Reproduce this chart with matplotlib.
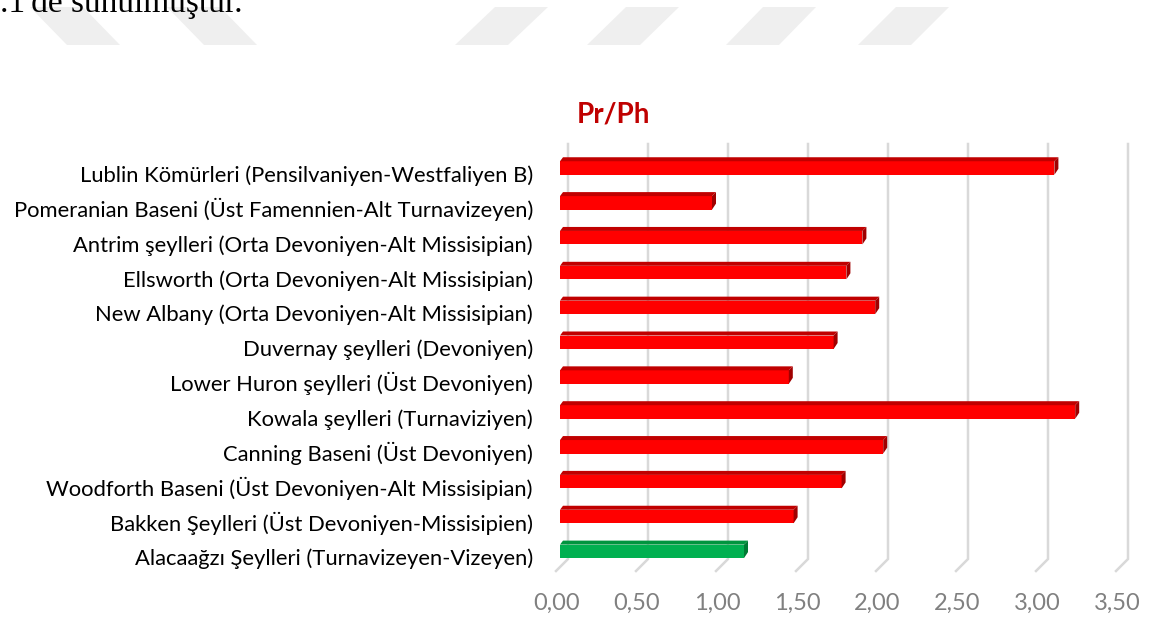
import matplotlib.pyplot as plt
from matplotlib.patches import Polygon

categories = [
    'Lublin Kömürleri (Pensilvaniyen-Westfaliyen B)',
    'Pomeranian Baseni (Üst Famennien-Alt Turnavizeyen)',
    'Antrim şeylleri (Orta Devoniyen-Alt Missisipian)',
    'Ellsworth (Orta Devoniyen-Alt Missisipian)',
    'New Albany (Orta Devoniyen-Alt Missisipian)',
    'Duvernay şeylleri (Devoniyen)',
    'Lower Huron şeylleri (Üst Devoniyen)',
    'Kowala şeylleri (Turnaviziyen)',
    'Canning Baseni (Üst Devoniyen)',
    'Woodforth Baseni (Üst Devoniyen-Alt Missisipian)',
    'Bakken Şeylleri (Üst Devoniyen-Missisipien)',
    'Alacaağzı Şeylleri (Turnavizeyen-Vizeyen)',
]
values = [3.09, 0.95, 1.89, 1.79, 1.97, 1.71, 1.43, 3.22, 2.02, 1.76, 1.46, 1.15]
highlight = 'Alacaağzı Şeylleri (Turnavizeyen-Vizeyen)'
ticks = [0.0, 0.5, 1.0, 1.5, 2.0, 2.5, 3.0, 3.5]
title = 'Pr/Ph'
header_text = ".1'de sunulmuştur."

W, H = 1149, 618
fig = plt.figure(figsize=(W / 100, H / 100), dpi=100)

# soluk filigran (arka plandaki gri paralelkenarlar)
watermark = [(30, 37), (167, 37), (495, -40), (626, -39), (763, -37), (896, -38)]
for x_top, shift in watermark:
    pts = [(x_top, 7), (x_top + 53, 7), (x_top + 53 + shift, 45), (x_top + shift, 45)]
    fig.patches.append(Polygon([(x / W, 1 - y / H) for x, y in pts], closed=True,
                               transform=fig.transFigure, facecolor='#EFEFEF',
                               edgecolor='none', zorder=0))

# sayfadan kalan, üstten kesik metin satırı
fig.text(0, 1 - 12 / H, header_text, ha='left', va='baseline', fontsize=24,
         family='Liberation Serif', color='black')

ax = fig.add_axes([560 / W, 1 - 590 / H, 580 / W, 450 / H])
ax.set_xlim(0, 580 / 160)
ax.set_ylim(422 / 34.85, -28 / 34.85)
ax.axis('off')

px = 1 / 160    # bir pikselin x ekseninde karşılığı
py = 1 / 34.85  # bir pikselin y ekseninde karşılığı

# 3B ızgara çizgileri
for t in ticks:
    xb = t + 8 * px
    ax.plot([xb, xb, t - 4 * px], [-24 * py, 391 * py, 403 * py], color='#D9D9D9',
            lw=1.8, zorder=1, clip_on=False, solid_joinstyle='miter')
    ax.text(t - 3 * px, 442 * py, f'{t:.2f}'.replace('.', ','), ha='center', va='baseline',
            color='#808080', fontsize=17, family='Lato')

h = 13.5 * py
for i, (c, v) in enumerate(zip(categories, values)):
    if c == highlight:
        front, top, side = '#00B050', '#00953F', '#007A33'
    else:
        front, top, side = '#FF0000', '#C00000', '#A00000'
    ax.barh(i, v, height=h, color=front, zorder=3)
    y0 = i - h / 2
    ax.add_patch(Polygon([(0, y0), (v, y0), (v + 4 * px, y0 - 4 * py), (3 * px, y0 - 4 * py)],
                         closed=True, facecolor=top, edgecolor='none', zorder=3))
    ax.add_patch(Polygon([(v, y0), (v + 4 * px, y0 - 4 * py), (v + 4 * px, y0 + h - 6 * py),
                          (v, y0 + h)], closed=True, facecolor=side, edgecolor='none', zorder=3))
    ax.text(-27 * px, i + 14 * py, c, ha='right', va='baseline', fontsize=15.8,
            family='Lato', color='black')

fig.text(613 / W, 1 - 123 / H, title, ha='center', va='baseline', color='#C00000',
         fontsize=20, fontweight='bold', family='Lato')

fig.savefig('out.png', dpi=100)
